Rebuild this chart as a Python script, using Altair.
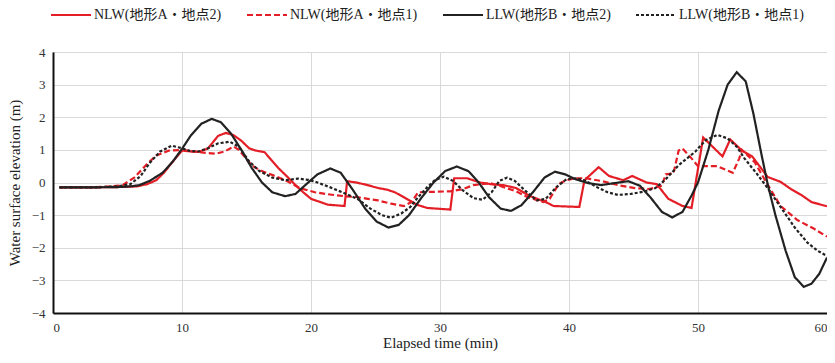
import altair as alt
import pandas as pd

SERIES = ["NLW(地形A・地点2)", "NLW(地形A・地点1)", "LLW(地形B・地点2)", "LLW(地形B・地点1)"]

nlw2_t = [0.5, 3, 5, 6.5, 7.3, 8, 8.6, 9.2, 10, 10.7, 11.3, 12, 12.8, 13.4, 14, 14.6, 15.2, 15.7, 16.4, 17.5,
          18.1, 18.8, 19.4, 20, 21.3, 22.6, 22.8, 23.5, 24.4, 25.2, 25.9, 26.5, 27.2, 28.2, 29, 30.8, 31.1, 32.1,
          33.1, 34.1, 34.9, 35.9, 37, 38.2, 38.8, 40.8, 41.2, 42.3, 43.1, 44.2, 44.9, 46, 46.8, 47.7, 48.8, 49.5,
          50.4, 51.9, 52.5, 53.4, 54.2, 55.4, 56.4, 57.2, 58, 58.8, 60]
nlw2_y = [-0.15, -0.15, -0.14, -0.12, -0.05, 0.07, 0.3, 0.6, 0.98, 0.95, 0.94, 1.04, 1.43, 1.52, 1.45, 1.28, 1.05,
          0.98, 0.93, 0.43, 0.2, -0.08, -0.3, -0.5, -0.68, -0.72, 0.04, 0.0, -0.08, -0.17, -0.22, -0.3, -0.45,
          -0.68, -0.78, -0.83, 0.13, 0.13, 0.0, -0.06, -0.08, -0.17, -0.42, -0.6, -0.72, -0.75, 0.07, 0.47, 0.2,
          0.07, 0.2, 0.0, -0.05, -0.5, -0.72, -0.78, 1.38, 0.8, 1.32, 0.98, 0.8, 0.17, 0.02, -0.2, -0.38, -0.6,
          -0.73]

nlw1_t = [0.5, 3, 4.5, 5.4, 6.3, 7.2, 8, 9, 10, 11.3, 12.6, 13.3, 14.0, 14.4, 15.4, 16, 17.2, 18.1, 19.2, 20.3,
          21.3, 22.6, 23.6, 24.4, 25.2, 26.2, 27.2, 27.8, 28.3, 30.8, 31.8, 32.6, 33.9, 34.6, 35.9, 36.8, 38.0,
          38.5, 39.2, 39.8, 40.5, 41.3, 42.6, 43.8, 45.1, 46.2, 47.2, 47.5, 48.1, 48.5, 48.8, 49.5, 50, 51.5,
          52.7, 53.2, 53.4, 54.4, 55.3, 56.4, 57.7, 59, 60]
nlw1_y = [-0.15, -0.15, -0.12, -0.08, 0.15, 0.53, 0.83, 0.98, 1.0, 0.93, 0.88, 0.95, 1.1, 1.0, 0.53, 0.38, 0.2,
          0.05, -0.18, -0.3, -0.36, -0.42, -0.45, -0.5, -0.55, -0.65, -0.72, -0.6, -0.3, -0.27, -0.2, -0.08,
          -0.02, -0.1, -0.27, -0.45, -0.6, -0.5, -0.05, 0.07, 0.13, 0.13, 0.04, -0.08, -0.17, -0.2, -0.1, 0.25,
          0.28, 0.98, 1.04, 0.74, 0.5, 0.5, 0.3, 0.74, 1.0, 0.62, 0.0, -0.72, -1.15, -1.42, -1.66]

llw2_t = [0.5, 3, 5, 6, 6.7, 7.5, 8.5, 9.3, 10, 10.7, 11.5, 12.3, 13, 13.8, 14.6, 15.4, 16.2, 17, 18, 18.8, 19.5,
          20.5, 21.5, 22.3, 23.2, 24.2, 25.1, 26, 26.8, 27.6, 28.5, 29.5, 30.4, 31.3, 32.2, 33, 33.8, 34.7, 35.5,
          36.3, 37.2, 38.1, 38.9, 39.7, 40.5, 41.5, 42.5, 43.5, 44.6, 45.5, 46.3, 47.2, 48, 48.8, 49.5, 50, 50.8,
          51.6, 52.3, 53, 53.7, 54.3, 54.9, 55.4, 56, 56.8, 57.5, 58.2, 58.8, 59.4, 60]
llw2_y = [-0.15, -0.15, -0.14, -0.12, -0.08, 0.05, 0.3, 0.65, 1.03, 1.45, 1.8, 1.95, 1.85, 1.5, 1.0, 0.45, 0.0,
          -0.3, -0.42, -0.35, -0.1, 0.25, 0.43, 0.3, -0.2, -0.8, -1.2, -1.38, -1.3, -1.0, -0.5, 0.0, 0.35, 0.49,
          0.35, 0.0, -0.45, -0.8, -0.87, -0.7, -0.3, 0.15, 0.33, 0.25, 0.1, -0.02, -0.08, -0.02, 0.04, -0.1,
          -0.45, -0.9, -1.07, -0.9, -0.4, 0.0, 1.0, 2.2, 3.0, 3.38, 3.1, 2.1, 0.9, -0.05, -1.0, -2.1, -2.9, -3.2,
          -3.1, -2.8, -2.3]

llw1_t = [0.5, 3, 5, 6, 6.8, 7.5, 8.3, 9.2, 10, 10.6, 11.3, 12, 12.8, 13.7, 14.4, 15.2, 16, 17, 18, 19, 19.8,
          20.5, 21.5, 22.6, 23.6, 24.6, 25.5, 26.2, 27, 27.7, 28.3, 29, 29.6, 30.3, 31, 31.8, 32.6, 33.3, 34,
          34.6, 35.2, 35.8, 36.6, 37.5, 38.2, 39, 39.8, 40.5, 41.3, 42.2, 43, 43.8, 44.8, 45.8, 46.7, 47.5, 48.5,
          49.8, 50.6, 51.5, 52.3, 53, 53.6, 54.5, 55.4, 56.4, 57.5, 58.5, 59.3, 60]
llw1_y = [-0.15, -0.15, -0.12, -0.05, 0.2, 0.6, 0.95, 1.13, 1.05, 0.97, 0.95, 1.05, 1.2, 1.25, 1.1, 0.65, 0.35,
          0.15, 0.07, 0.12, 0.08, 0.0, -0.15, -0.33, -0.5, -0.8, -1.0, -1.08, -0.95, -0.75, -0.45, -0.15, 0.07,
          0.18, 0.05, -0.25, -0.48, -0.53, -0.3, 0.05, 0.15, 0.05, -0.25, -0.55, -0.5, -0.15, 0.1, 0.13, 0.05,
          -0.15, -0.3, -0.38, -0.35, -0.28, -0.17, 0.1, 0.53, 0.95, 1.3, 1.46, 1.35, 1.1, 0.74, 0.3, -0.17, -0.75,
          -1.38, -1.85, -2.1, -2.25]

X_TICKS = [0, 10, 20, 30, 40, 50, 60]
Y_TICKS = [-4, -3, -2, -1, 0, 1, 2, 3, 4]
COLORS = ["#e41e26", "#e41e26", "#222222", "#222222"]
DASHES = [[1, 0], [6, 3], [1, 0], [3, 2]]

rows = []
for name, ts, ys in zip(SERIES, [nlw2_t, nlw1_t, llw2_t, llw1_t], [nlw2_y, nlw1_y, llw2_y, llw1_y]):
    for i, (t, y) in enumerate(zip(ts, ys)):
        rows.append({"series": name, "t": t, "y": y, "order": i})
df = pd.DataFrame(rows)

serif = "Liberation Serif, Noto Sans CJK JP"

x = alt.X("t:Q", scale=alt.Scale(domain=[0, 60], nice=False),
          axis=alt.Axis(values=X_TICKS, title="Elapsed time (min)", grid=True, ticks=False,
                        labelPadding=8, titlePadding=1))
y = alt.Y("y:Q", scale=alt.Scale(domain=[-4, 4], nice=False),
          axis=alt.Axis(values=Y_TICKS, title="Water surface elevation (m)", grid=True, ticks=False,
                        labelPadding=8, titlePadding=9))
color = alt.Color("series:N", scale=alt.Scale(domain=SERIES, range=COLORS), sort=SERIES,
                  legend=alt.Legend(title=None, orient="none", legendX=-3, legendY=-58, direction="horizontal",
                                    columns=4, symbolType="stroke", symbolSize=1600, symbolStrokeWidth=2,
                                    labelFont=serif, labelFontSize=14, labelColor="#222",
                                    columnPadding=21, labelOffset=2, labelLimit=300))
dash = alt.StrokeDash("series:N", scale=alt.Scale(domain=SERIES, range=DASHES), sort=SERIES, legend=None)

red = alt.Chart(df).transform_filter(alt.datum.series < "O").mark_line(strokeWidth=2.2, interpolate="linear").encode(
    x=x, y=y, color=color, strokeDash=dash, order="order:Q")
black = alt.Chart(df).transform_filter(alt.datum.series > "O").mark_line(strokeWidth=1.5, interpolate="monotone").encode(
    x=x, y=y, color=color, strokeDash=dash, order="order:Q")

chart = alt.layer(red, black).properties(
    width=774, height=261,
    background="white",
    autosize=alt.AutoSizeParams(type="none"),
    padding={"left": 45, "top": 44, "right": 0, "bottom": 38},
).configure_view(stroke="#333333", strokeWidth=1).configure_axis(
    labelFont=serif, titleFont=serif, labelFontSize=13, titleFontSize=15, labelColor="#333",
    titleColor="#222", titleFontWeight="normal", gridColor="#d9d9d9", gridWidth=1,
    domainColor="#111111", domainWidth=2
)

chart.save("out.html", embed_options={"renderer": "svg", "actions": False})
